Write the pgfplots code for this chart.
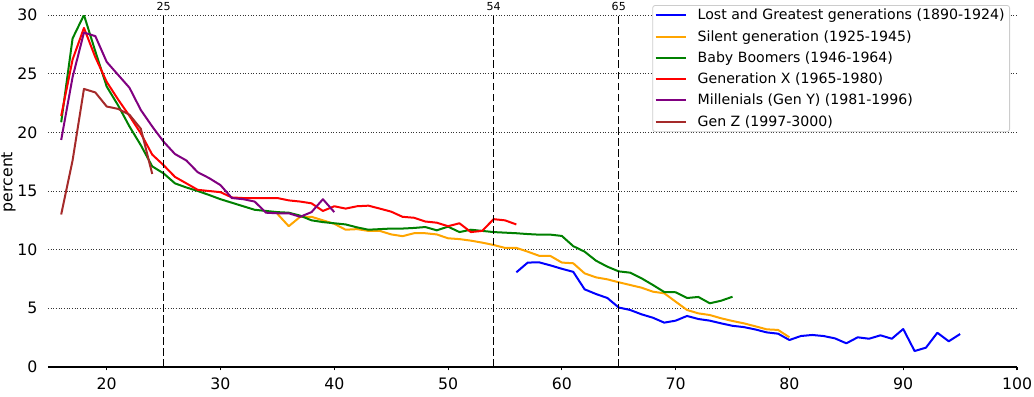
\documentclass[border=0pt]{standalone}
\usepackage{fontspec}
\setmainfont{DejaVu Sans}
\usepackage{pgfplots}
\pgfplotsset{compat=1.18}
\definecolor{cblue}{RGB}{0,0,255}
\definecolor{corange}{RGB}{255,165,0}
\definecolor{cgreen}{RGB}{0,128,0}
\definecolor{cred}{RGB}{255,0,0}
\definecolor{cpurple}{RGB}{128,0,128}
\definecolor{cbrown}{RGB}{165,42,42}
\begin{document}
\begin{tikzpicture}
\begin{axis}[
  name=ax,
  scale only axis, width=726.75pt, height=264pt,
  xmin=14.84, xmax=100, ymin=0, ymax=30,
  clip mode=individual,
  xtick={20,30,...,100}, ytick={0,5,...,30},
  axis x line*=bottom, axis y line*=left,
  x axis line style={-, line width=1.2pt, black},
  y axis line style={draw=none},
  tick align=outside,
  major tick length=2.5pt,
  xtick style={black, line width=0.8pt},
  ytick style={draw=none},
  ymajorgrids,
  grid style={black!80, line width=0.75pt, dash pattern=on 0.75pt off 1.25pt},
  ticklabel style={font=\fontsize{11.8}{14}\selectfont},
  /pgf/number format/assume math mode=true,
  xticklabel style={inner sep=0pt, anchor=north, yshift=-5.2pt},
  yticklabel style={inner sep=0pt, anchor=east, xshift=-5.25pt},
  ylabel={percent},
  ylabel style={font=\fontsize{11.8}{14}\selectfont, inner sep=0pt, at={(axis description cs:0,0.5)}, anchor=south, xshift=6.75pt, yshift=24pt},
  legend style={at={(axis description cs:0.9928,1.0284)}, anchor=north east,
    draw=black!20, line width=0.6pt, rounded corners=2pt, fill=white,
    font=\fontsize{10.6}{12}\selectfont,
    inner xsep=1.5pt, inner ysep=1.2pt, column sep=6pt, row sep=3.4pt,
    nodes={inner xsep=2.25pt, inner ysep=1.5pt}},
  legend cell align=left,
  legend image code/.code={\draw[#1, line width=1.5pt] (0pt,0pt) -- (22.5pt,0pt);},
  every axis plot/.append style={line width=1.5pt, line join=round},
]
\addplot[cblue] coordinates {
(56,8.07) (57,8.9) (58,8.92) (59,8.66) (60,8.37) (61,8.11) (62,6.62) (63,6.22) (64,5.88) (65,5.07)
(66,4.86) (67,4.49) (68,4.2) (69,3.78) (70,3.95) (71,4.35) (72,4.09) (73,3.95) (74,3.72) (75,3.51)
(76,3.4) (77,3.2) (78,2.95) (79,2.84) (80,2.3) (81,2.64) (82,2.73) (83,2.64) (84,2.44) (85,2.02)
(86,2.53) (87,2.41) (88,2.7) (89,2.41) (90,3.24) (91,1.36) (92,1.65) (93,2.92) (94,2.19) (95,2.81)};
\addlegendentry{Lost and Greatest generations (1890-1924)}
\addplot[corange] coordinates {
(35,13.05) (36,12.0) (37,12.8) (38,12.8) (39,12.5) (40,12.2) (41,11.7) (42,11.75) (43,11.6) (44,11.6)
(45,11.3) (46,11.15) (47,11.4) (48,11.4) (49,11.3) (50,10.97) (51,10.9) (52,10.77) (53,10.6) (54,10.4)
(55,10.15) (56,10.15) (57,9.83) (58,9.48) (59,9.46) (60,8.9) (61,8.84) (62,7.98) (63,7.64) (64,7.47)
(65,7.22) (66,6.99) (67,6.76) (68,6.42) (69,6.28) (70,5.57) (71,4.86) (72,4.57) (73,4.43) (74,4.15)
(75,3.92) (76,3.72) (77,3.47) (78,3.21) (79,3.16) (80,2.53)};
\addlegendentry{Silent generation (1925-1945)}
\addplot[cgreen] coordinates {
(16,20.86) (17,28.0) (18,30.0) (19,26.9) (20,23.9) (21,22.3) (22,20.5) (23,18.9) (24,17.1) (25,16.5)
(26,15.65) (27,15.3) (28,15.0) (29,14.66) (30,14.3) (31,14.0) (32,13.7) (33,13.4) (34,13.3) (35,13.2)
(36,13.15) (37,12.9) (38,12.5) (39,12.35) (40,12.25) (41,12.15) (42,11.9) (43,11.7) (44,11.75) (45,11.8)
(46,11.8) (47,11.85) (48,11.93) (49,11.65) (50,11.96) (51,11.5) (52,11.7) (53,11.6) (54,11.5) (55,11.45)
(56,11.4) (57,11.33) (58,11.28) (59,11.28) (60,11.17) (61,10.3) (62,9.83) (63,9.06) (64,8.55) (65,8.15)
(66,8.04) (67,7.56) (68,6.99) (69,6.39) (70,6.37) (71,5.88) (72,5.97) (73,5.43) (74,5.65) (75,5.99)};
\addlegendentry{Baby Boomers (1946-1964)}
\addplot[cred] coordinates {
(16,21.4) (17,26.2) (18,28.9) (19,26.4) (20,24.3) (21,22.8) (22,21.4) (23,19.9) (24,18.1) (25,17.2)
(26,16.2) (27,15.65) (28,15.1) (29,15.0) (30,14.9) (31,14.45) (32,14.4) (33,14.4) (34,14.4) (35,14.4)
(36,14.2) (37,14.1) (38,13.95) (39,13.3) (40,13.7) (41,13.5) (42,13.7) (43,13.75) (44,13.5) (45,13.24)
(46,12.8) (47,12.72) (48,12.4) (49,12.3) (50,12.0) (51,12.25) (52,11.5) (53,11.6) (54,12.6) (55,12.5)
(56,12.15)};
\addlegendentry{Generation X (1965-1980)}
\addplot[cpurple] coordinates {
(16,19.35) (17,24.7) (18,28.5) (19,28.2) (20,26.0) (21,24.9) (22,23.8) (23,21.9) (24,20.5) (25,19.2)
(26,18.15) (27,17.6) (28,16.6) (29,16.1) (30,15.5) (31,14.4) (32,14.3) (33,14.1) (34,13.15) (35,13.1)
(36,13.1) (37,12.8) (38,13.2) (39,14.3) (40,13.2)};
\addlegendentry{Millenials (Gen Y) (1981-1996)}
\addplot[cbrown] coordinates {
(16,13.0) (17,17.6) (18,23.7) (19,23.4) (20,22.2) (21,22.0) (22,21.5) (23,20.3) (24,16.45)};
\addlegendentry{Gen Z (1997-3000)}
\addplot[black, line width=1.1pt, dash pattern=on 5.8pt off 2.5pt, forget plot] coordinates {(25,0) (25,30)};
\addplot[black, line width=1.1pt, dash pattern=on 5.8pt off 2.5pt, forget plot] coordinates {(54,0) (54,30)};
\addplot[black, line width=1.1pt, dash pattern=on 5.8pt off 2.5pt, forget plot] coordinates {(65,0) (65,30)};
\node[anchor=base, inner sep=0pt, yshift=3.2pt, font=\fontsize{8.3}{10}\selectfont] at (axis cs:25,30) {25};
\node[anchor=base, inner sep=0pt, yshift=3.2pt, font=\fontsize{8.3}{10}\selectfont] at (axis cs:54,30) {54};
\node[anchor=base, inner sep=0pt, yshift=3.2pt, font=\fontsize{8.3}{10}\selectfont] at (axis cs:65,30) {65};
\end{axis}
\path (ax.south west) ++(-36pt,-21.75pt) coordinate (bl);
\path (ax.north east) ++(12.75pt,11.25pt) coordinate (tr);
\path (bl) rectangle (tr);
\end{tikzpicture}
\end{document}
